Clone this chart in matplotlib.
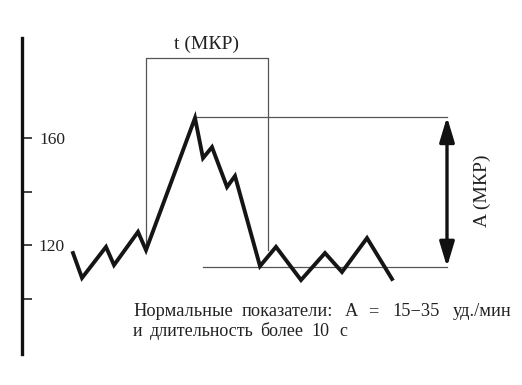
import matplotlib
matplotlib.use("Agg")
import matplotlib.pyplot as plt

# ---- data (time in arbitrary units, heart rate in bpm) ----
time = [73, 82, 106, 114, 138, 146, 195, 203, 212, 227, 235, 260, 276, 301, 325, 342, 367, 392]
bpm = [117.0, 107.7, 119.3, 112.5, 124.9, 118.1, 167.5, 152.5, 156.6, 141.7, 145.8,
       112.1, 119.3, 106.9, 117.0, 109.9, 122.6, 107.3]
yticks = [100, 120, 140, 160]
ytick_labels = ["", "120", "", "160"]
t_start, t_end = 146, 268      # МКР duration window
t_box_top = 190.0              # top of the duration bracket (bpm scale)
peak_level = 167.9
base_level = 111.8
base_start = 203
a_x = 447

note_line1 = ["Нормальные", "показатели:", "A", "=", "15−35", "уд./мин"]
note_line2 = ["и", "длительность", "более", "10", "с"]

W, H = 522, 385
fig = plt.figure(figsize=(W / 100, H / 100), dpi=100)
ax = fig.add_axes([22 / W, (H - 354) / H, 1 - 22 / W, (354 - 38) / H])
ax.set_xlim(22, 522)
ax.set_ylim(79.25, 197.4)
for s in ["top", "right", "bottom"]:
    ax.spines[s].set_visible(False)
ax.spines["left"].set_linewidth(2.4)
ax.spines["left"].set_color("#111111")
ax.set_xticks([])
ax.set_yticks(yticks)
ax.set_yticklabels(ytick_labels)
ax.tick_params(axis="y", direction="in", length=7.5, width=1.2, color="#222222",
               pad=-31, labelsize=12.5)
for lab in ax.get_yticklabels():
    lab.set_fontfamily("Liberation Serif")
    lab.set_color("#222222")

serif = "Liberation Serif"
thin = dict(color="#555555", lw=0.9)

# duration bracket
ax.plot([t_start, t_start, t_end, t_end],
        [bpm[5], t_box_top, t_box_top, 118.1], **thin)
ax.text((t_start + t_end) / 2, 195.1, "t (МКР)", ha="center", va="center",
        fontsize=14, fontfamily=serif, color="#222222")

# amplitude lines
ax.plot([time[6], a_x], [peak_level, peak_level], **thin)
ax.plot([base_start, a_x], [base_level, base_level], **thin)
ax.annotate("", xy=(a_x, peak_level), xytext=(a_x, base_level),
            arrowprops=dict(arrowstyle="<|-|>,head_length=1.5,head_width=0.45",
                            color="#111111", lw=2.4, shrinkA=0, shrinkB=0))
ax.text(482, 140.2, "A (МКР)", rotation=90, ha="center", va="center",
        fontsize=14, fontfamily=serif, color="#222222")

# trace
ax.plot(time, bpm, color="#151515", lw=2.8, solid_joinstyle="miter")

# note (words placed with the wide spacing of the original)
x1 = [133, 242, 345, 368, 392, 453]
x2 = [133, 150, 260, 311, 339]
for w, x in zip(note_line1, x1):
    ax.text(x, 93.5, w, ha="left", va="baseline", fontsize=13.2,
            fontfamily=serif, color="#222222")
for w, x in zip(note_line2, x2):
    ax.text(x, 85.9, w, ha="left", va="baseline", fontsize=13,
            fontfamily=serif, color="#222222")

fig.savefig("out.png", dpi=100)
